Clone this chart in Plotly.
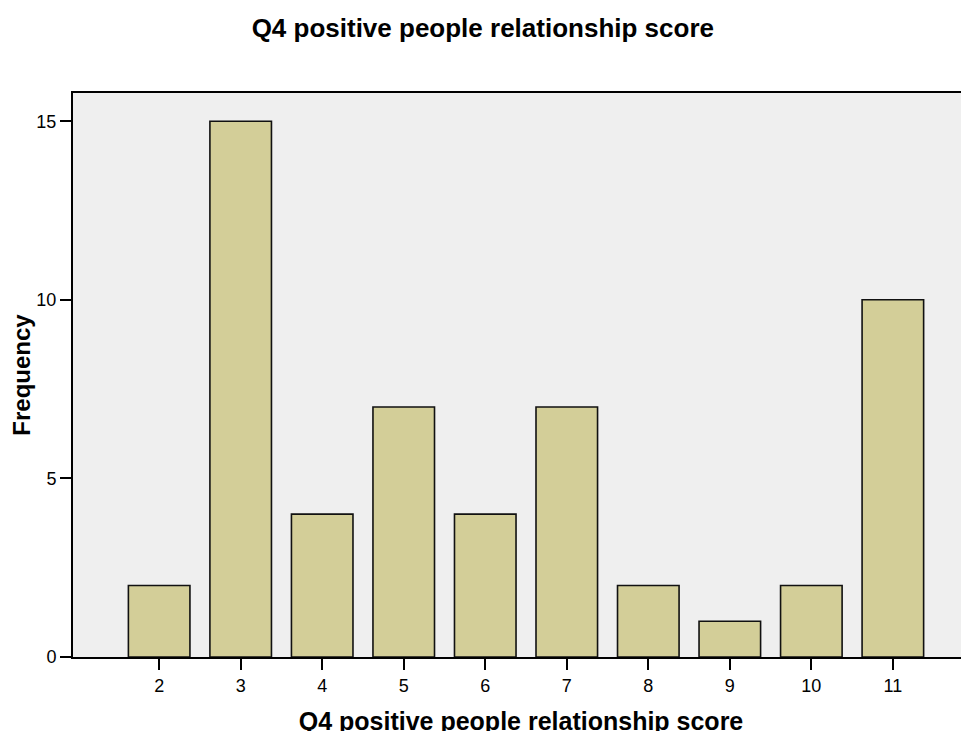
import plotly.graph_objects as go

scores = [2, 3, 4, 5, 6, 7, 8, 9, 10, 11]
frequency = [2, 15, 4, 7, 4, 7, 2, 1, 2, 10]
y_ticks = [0, 5, 10, 15]

title_text = "Q4 positive people relationship score"
x_title = "Q4 positive people relationship score"
y_title = "Frequency"

font_family = "Liberation Sans, Arial, sans-serif"

fig = go.Figure()
fig.add_trace(go.Bar(
    x=scores,
    y=frequency,
    marker=dict(color="#D3CE98", line=dict(color="#111111", width=1.6)),
    width=0.755,
    hoverinfo="x+y",
))

fig.update_layout(
    width=969,
    height=731,
    margin=dict(l=65, r=8, t=85, b=78),
    paper_bgcolor="white",
    plot_bgcolor="#EFEFEF",
    showlegend=False,
    font=dict(family=font_family, color="black", size=18),
    title=dict(
        text="<b>" + title_text + "</b>",
        x=0.490, xref="container", xanchor="center",
        y=1 - 20 / 731, yref="container", yanchor="middle",
        font=dict(size=26, family=font_family, color="black"),
    ),
)

fig.update_xaxes(
    range=[0.943, 11.934],
    tickmode="array",
    tickvals=scores,
    ticktext=[str(s) for s in scores],
    ticks="outside",
    ticklen=11,
    tickwidth=2,
    tickcolor="black",
    showline=True,
    linecolor="black",
    linewidth=2,
    mirror=True,
    showgrid=False,
    zeroline=False,
    tickfont=dict(size=18),
    title=dict(text="<b>" + x_title + "</b>", font=dict(size=25), standoff=18),
)
fig.update_yaxes(
    range=[0, 15.79],
    tickmode="array",
    tickvals=y_ticks,
    ticktext=[str(v) for v in y_ticks],
    ticks="outside",
    ticklen=11,
    tickwidth=2,
    tickcolor="black",
    showline=True,
    linecolor="black",
    linewidth=2,
    mirror=False,
    showgrid=False,
    zeroline=False,
    tickfont=dict(size=18),
    title=dict(text="<b>" + y_title + "</b>", font=dict(size=24), standoff=3),
)

fig.write_html("out.html")
